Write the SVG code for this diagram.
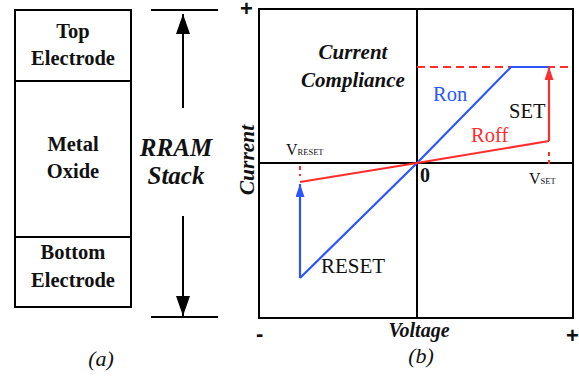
<svg xmlns="http://www.w3.org/2000/svg" width="579" height="377" viewBox="0 0 579 377">
<defs>
<style>
.ln{stroke:#000;stroke-width:2;fill:none}
.t{font-family:"Liberation Serif","Times New Roman",serif;fill:#111}
.s{font-family:"Liberation Sans",Arial,sans-serif;font-weight:bold;fill:#111;font-size:22px}
.b{font-weight:bold;font-size:20.5px}
.bi{font-weight:bold;font-style:italic}
.blue{stroke:#2a55ff;stroke-width:2.2;fill:none}
.red{stroke:#ff2d2d;stroke-width:2.2;fill:none}
</style>
<marker id="ab" viewBox="0 0 20 14" refX="20" refY="7" markerWidth="20" markerHeight="14" markerUnits="userSpaceOnUse" orient="auto"><path d="M0,0 L20,7 L0,14 z" fill="#000"/></marker>
<marker id="ablue" viewBox="0 0 13 9" refX="13" refY="4.5" markerWidth="13" markerHeight="9" markerUnits="userSpaceOnUse" orient="auto"><path d="M0,0 L13,4.5 L0,9 z" fill="#2a55ff"/></marker>
<marker id="ared" viewBox="0 0 13 9" refX="13" refY="4.5" markerWidth="13" markerHeight="9" markerUnits="userSpaceOnUse" orient="auto"><path d="M0,0 L13,4.5 L0,9 z" fill="#ff2d2d"/></marker>
</defs>
<rect width="579" height="377" fill="#fff"/>
<g id="stack">
<rect x="15" y="10" width="116" height="297" class="ln"/>
<line x1="15" y1="81" x2="131" y2="81" class="ln"/>
<line x1="15" y1="237" x2="131" y2="237" class="ln"/>
<text class="t b" x="73" y="38" text-anchor="middle">Top</text>
<text class="t b" x="73" y="65" text-anchor="middle">Electrode</text>
<text class="t b" x="73" y="151" text-anchor="middle">Metal</text>
<text class="t b" x="73" y="178" text-anchor="middle">Oxide</text>
<text class="t b" x="73" y="259" text-anchor="middle">Bottom</text>
<text class="t b" x="73" y="287" text-anchor="middle">Electrode</text>
</g>
<g id="dimension">
<line x1="151" y1="10" x2="218" y2="10" class="ln"/>
<line x1="151" y1="317" x2="218" y2="317" class="ln"/>
<line x1="183" y1="108" x2="183" y2="14" stroke="#000" stroke-width="2" marker-end="url(#ab)"/>
<line x1="183" y1="216" x2="183" y2="316" stroke="#000" stroke-width="2" marker-end="url(#ab)"/>
<text class="t bi" x="176" y="156" font-size="25" text-anchor="middle">RRAM</text>
<text class="t bi" x="176" y="184" font-size="25" text-anchor="middle">Stack</text>
<text class="t" x="101" y="366" font-size="22" font-style="italic" text-anchor="middle">(a)</text>
</g>
<g id="plot">
<rect x="259" y="9" width="314" height="309" class="ln"/>
<line x1="417" y1="9" x2="417" y2="318" class="ln"/>
<line x1="259" y1="163" x2="573" y2="163" class="ln"/>
</g>
<g id="curves">
<line x1="417" y1="67" x2="573" y2="67" stroke="#ff2d2d" stroke-width="2" stroke-dasharray="8,5"/>
<line x1="549" y1="152" x2="549" y2="165" stroke="#ff2d2d" stroke-width="2" stroke-dasharray="4,4"/>
<line x1="300" y1="166" x2="300" y2="176" stroke="#ff2d2d" stroke-width="2" stroke-dasharray="4,4"/>
<polyline points="300,278 417,163 511,67 549,67" class="blue"/>
<polyline points="300,182 417,163 549,141" class="red"/>
<line x1="300" y1="278" x2="300" y2="184" class="blue" marker-end="url(#ablue)"/>
<line x1="549" y1="141" x2="549" y2="67" class="red" marker-end="url(#ared)"/>
</g>
<g id="labels">
<text class="t bi" x="353" y="59" font-size="21" text-anchor="middle">Current</text>
<text class="t bi" x="353" y="87" font-size="21" text-anchor="middle">Compliance</text>
<text x="433" y="101" font-family="Liberation Serif,serif" font-size="20.5" fill="#2a55ff">Ron</text>
<text class="t" x="509" y="118" font-size="20.5">SET</text>
<text x="471" y="142" font-family="Liberation Serif,serif" font-size="20.5" fill="#ff2d2d">Roff</text>
<text class="t" x="286" y="155" font-size="16">V<tspan font-size="8.5">RESET</tspan></text>
<text class="t" x="529" y="184" font-size="16">V<tspan font-size="8.5">SET</tspan></text>
<text class="t" x="420" y="182" font-size="20" font-weight="bold">0</text>
<text class="t" x="321" y="273" font-size="21">RESET</text>
<text class="s" x="240" y="16">+</text>
<text class="s" x="256" y="341">-</text>
<text class="s" x="566" y="343">+</text>
<text class="t bi" x="419" y="337" font-size="20" text-anchor="middle">Voltage</text>
<text class="t bi" font-size="21.5" text-anchor="middle" transform="translate(254,160) rotate(-90)">Current</text>
<text class="t" x="421" y="363" font-size="22" font-style="italic" text-anchor="middle">(b)</text>
</g>
</svg>
